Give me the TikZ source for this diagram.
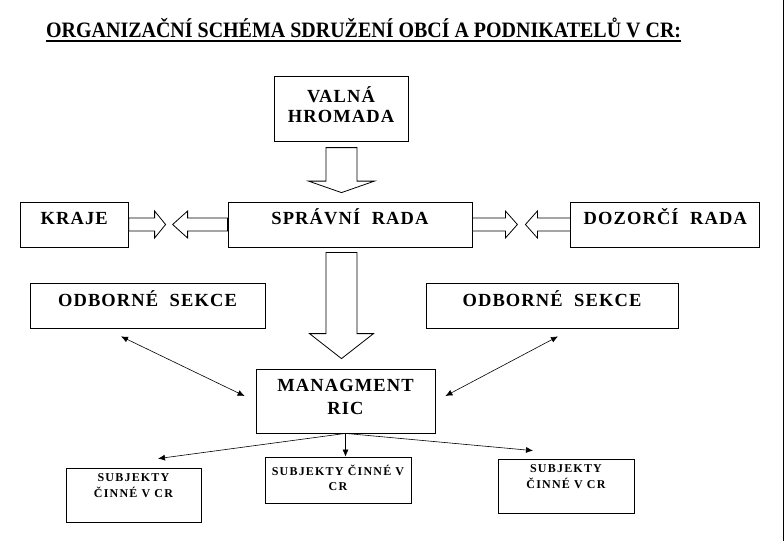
\documentclass[tikz,border=0pt]{standalone}
\usepackage{fontspec}
\usepackage{graphicx}
\setmainfont{Liberation Serif}
\newfontfamily\boxfamily[LetterSpace=6]{Liberation Serif}
\newfontfamily\subjfamily[LetterSpace=10]{Liberation Serif}
\newcommand\boxlabelfont{\boxfamily\bfseries\fontsize{18.5}{21}\selectfont}
\newcommand\subjlabelfont{\subjfamily\bfseries\fontsize{12}{16}\selectfont}
\usetikzlibrary{calc,arrows.meta,positioning}
\tikzset{
    orgbox/.style={draw,rectangle,inner sep=0pt,line width=0.8pt,align=center,font=\boxlabelfont,text height=12pt,text depth=12pt},
    subjbox/.style={draw,rectangle,inner sep=0pt,line width=0.8pt,align=center,font=\subjlabelfont},
    fatline/.style={draw,line width=0.8pt,line join=miter,fill=white},
    sipka/.style={draw,line width=0.6pt,-{Latex[length=7pt,width=6pt]}},
    dvojsipka/.style={draw,line width=0.6pt,{Latex[length=7pt,width=6pt]}-{Latex[length=7pt,width=6pt]}},
}
% #1 start, #2 tip, #3 half shaft, #4 half head, #5 head length
\newcommand\fatarrow[5]{%
  \path ($(#2)!#5!(#1)$) coordinate (fa base);
  \draw[fatline] ($(#1)!#3!90:(#2)$) -- ($(fa base)!#3!-90:(#1)$) -- ($(fa base)!#4!-90:(#1)$)
    -- (#2) -- ($(fa base)!#4!90:(#1)$) -- ($(fa base)!#3!90:(#1)$) -- ($(#1)!#3!-90:(#2)$) -- cycle;
}

\begin{document}
\begin{tikzpicture}[x=1pt,y=-1pt]
\useasboundingbox (0,0) rectangle (784,541);
\fill[white] (0,0) rectangle (784,541);

\node[inner sep=0pt,anchor=base west] (titul) at (46,37)
  {\resizebox{635pt}{\height}{\bfseries\fontsize{22}{26}\selectfont ORGANIZAČNÍ SCHÉMA SDRUŽENÍ OBCÍ A PODNIKATELŮ V CR:}};
\draw[line width=1.4pt] ($(titul.base west)+(0,-4pt)$) -- ($(titul.base east)+(0,-4pt)$);

\node[orgbox,minimum width=244pt,minimum height=45pt] (sprava) at (350,224.5) {SPRÁVNÍ~~RADA};
\node[orgbox,minimum width=108pt,minimum height=45pt,left=99pt of sprava] (kraje) {KRAJE};
\node[orgbox,minimum width=189pt,minimum height=45pt,right=98pt of sprava] (dozor) {DOZORČÍ~~RADA};
\node[orgbox,minimum width=134pt,minimum height=65pt,text height=32pt,text depth=4pt,above=60pt of sprava,xshift=-9pt] (valna) {VALNÁ\\[-1pt]HROMADA};
\node[orgbox,minimum width=235pt,minimum height=45pt,text depth=10pt] (odbl) at (147.5,305.5) {ODBORNÉ~~SEKCE};
\node[orgbox,minimum width=252pt,minimum height=45pt,text depth=10pt] (odbr) at (552,305.5) {ODBORNÉ~~SEKCE};
\node[orgbox,minimum width=179pt,minimum height=64pt,text height=35pt,text depth=9pt] (mng) at (345.5,401) {MANAGMENT\\[2pt]RIC};
\node[subjbox,minimum width=135pt,minimum height=54pt,text height=24pt,text depth=20pt] (subl) at (133.5,495) {SUBJEKTY\\ČINNÉ V CR};
\node[subjbox,minimum width=146pt,minimum height=46pt,text height=23pt,text depth=2pt] (subm) at (338,480) {SUBJEKTY ČINNÉ V\\[-1pt]CR};
\node[subjbox,minimum width=136pt,minimum height=54pt,text height=24pt,text depth=20pt] (subr) at (566,486) {SUBJEKTY\\ČINNÉ V CR};

\coordinate (v1) at ($(valna.south)+(0.5pt,-6pt)$);
\coordinate (v2) at ($(valna.south |- sprava.north)+(0.5pt,9pt)$);
\coordinate (s1) at ($(sprava.south)+(-8.5pt,-5pt)$);
\coordinate (s2) at ($(mng.north)+(-4pt,10pt)$);
\coordinate (kt) at ($(kraje.east)+(37pt,0)$);
\coordinate (st) at ($(sprava.west)+(-55pt,0)$);
\coordinate (sr) at ($(sprava.east)+(45pt,0)$);
\coordinate (dt) at ($(dozor.west)+(-45pt,0)$);
\fatarrow{v1}{v2}{15.5pt}{33pt}{11.5pt}
\fatarrow{s1}{s2}{15.5pt}{32pt}{25pt}
\fatarrow{kraje.east}{kt}{6.5pt}{13.5pt}{11pt}
\fatarrow{sprava.west}{st}{6.5pt}{13.5pt}{15pt}
\fatarrow{sprava.east}{sr}{6.5pt}{13.5pt}{12pt}
\fatarrow{dozor.west}{dt}{6.5pt}{13.5pt}{12pt}

\coordinate (a1) at ($(odbl.south)+(-26.5pt,-8pt)$);
\coordinate (a2) at ($(mng.west)+(-11pt,5pt)$);
\coordinate (b1) at ($(mng.east)+(10pt,5pt)$);
\coordinate (b2) at ($(odbr.south)+(6pt,-8pt)$);
\draw[dvojsipka] (a1) -- (a2);
\draw[dvojsipka] (b1) -- (b2);

\coordinate (c1) at ($(subl.north)+(24.5pt,9pt)$);
\coordinate (c3) at ($(subr.north)+(-33pt,8pt)$);
\draw[sipka] (mng.south) -- (c1);
\draw[sipka] (mng.south) -- (mng.south |- subm.north);
\draw[sipka] (mng.south) -- (c3);

\draw[line width=0.8pt] (783,0) -- (783,541);
\end{tikzpicture}
\end{document}
